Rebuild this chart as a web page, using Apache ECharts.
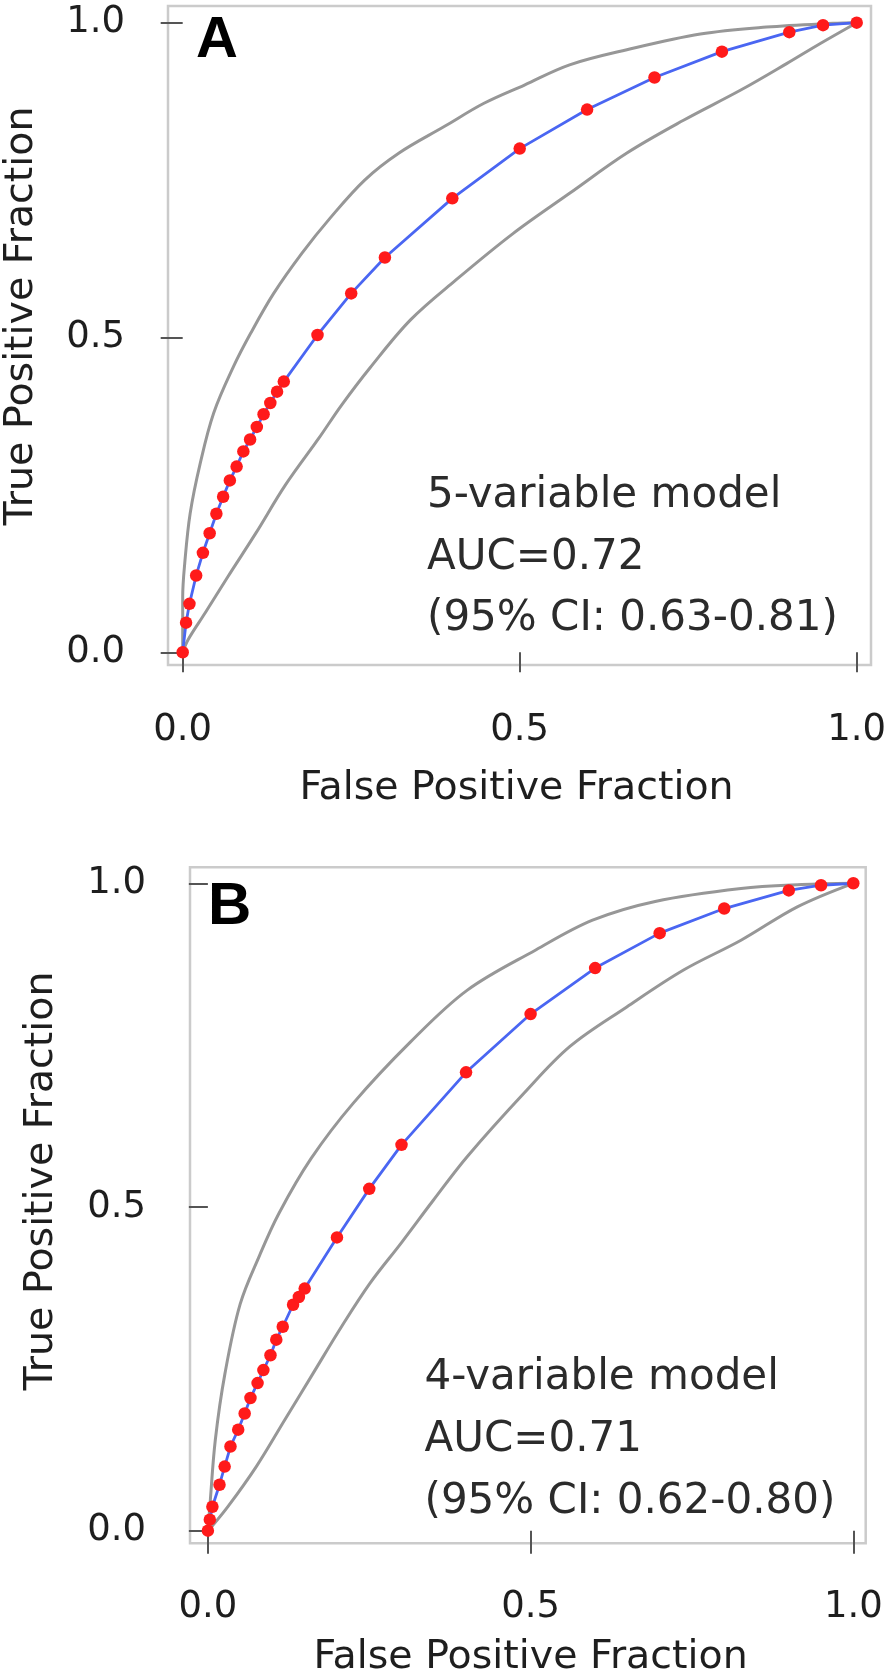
<!DOCTYPE html>
<html>
<head>
<meta charset="utf-8">
<script src="https://cdn.jsdelivr.net/npm/echarts@6/dist/echarts.min.js"></script>
<style>
html,body{margin:0;padding:0;background:#fff;}
#chart{width:894px;height:1680px;}
</style>
</head>
<body>
<div id="chart"></div>
<script>
// ---------- DATA ----------
// Panel A: 5-variable model ROC
const fprA = [0, 0.005, 0.01, 0.02, 0.03, 0.04, 0.05, 0.06, 0.07, 0.08, 0.09, 0.10, 0.11, 0.12, 0.13, 0.14, 0.15, 0.20, 0.25, 0.30, 0.40, 0.50, 0.60, 0.70, 0.80, 0.90, 0.95, 1.0];
const tprA = [0, 0.047, 0.077, 0.122, 0.158, 0.189, 0.220, 0.247, 0.273, 0.295, 0.319, 0.338, 0.358, 0.378, 0.396, 0.414, 0.430, 0.504, 0.570, 0.627, 0.721, 0.800, 0.862, 0.913, 0.954, 0.985, 0.996, 1.0];
const upperA_x = [0, 0, 0.003, 0.011, 0.026, 0.046, 0.0755, 0.101, 0.135, 0.177, 0.219, 0.270, 0.321, 0.388, 0.447, 0.507, 0.574, 0.659, 0.768, 0.866, 0.965, 1.0];
const upperA_y = [0, 0.088, 0.141, 0.22, 0.30, 0.38, 0.454, 0.507, 0.570, 0.634, 0.690, 0.750, 0.793, 0.835, 0.872, 0.901, 0.933, 0.957, 0.982, 0.993, 0.999, 1.0];
const lowerA_x = [0, 0.008, 0.033, 0.067, 0.109, 0.152, 0.202, 0.236, 0.278, 0.338, 0.405, 0.490, 0.574, 0.659, 0.743, 0.828, 0.896, 0.946, 1.0];
const lowerA_y = [0, 0.02, 0.062, 0.12, 0.19, 0.265, 0.34, 0.393, 0.452, 0.528, 0.591, 0.665, 0.729, 0.793, 0.845, 0.893, 0.935, 0.967, 1.0];

// Panel B: 4-variable model ROC
const fprB = [0, 0.003, 0.007, 0.018, 0.026, 0.035, 0.047, 0.057, 0.066, 0.077, 0.086, 0.097, 0.106, 0.116, 0.132, 0.141, 0.150, 0.20, 0.25, 0.30, 0.40, 0.50, 0.60, 0.70, 0.80, 0.90, 0.95, 1.0];
const tprB = [0, 0.017, 0.037, 0.071, 0.099, 0.130, 0.156, 0.181, 0.205, 0.228, 0.248, 0.271, 0.295, 0.315, 0.349, 0.361, 0.374, 0.453, 0.528, 0.596, 0.708, 0.798, 0.869, 0.923, 0.961, 0.989, 0.997, 1.0];
const upperB_x = [0, 0.003, 0.0115, 0.0265, 0.05, 0.08, 0.11, 0.16, 0.225, 0.314, 0.402, 0.508, 0.596, 0.693, 0.826, 0.92, 1.0];
const upperB_y = [0, 0.037, 0.14, 0.243, 0.35, 0.425, 0.49, 0.575, 0.66, 0.755, 0.835, 0.897, 0.943, 0.972, 0.992, 0.998, 1.0];
const lowerB_x = [0, 0.005, 0.031, 0.075, 0.119, 0.163, 0.207, 0.251, 0.30, 0.349, 0.402, 0.49, 0.561, 0.649, 0.737, 0.826, 0.914, 1.0];
const lowerB_y = [0, 0.005, 0.037, 0.099, 0.171, 0.243, 0.315, 0.382, 0.445, 0.51, 0.578, 0.676, 0.748, 0.809, 0.866, 0.912, 0.964, 1.0];

// Tick values and texts
const tickValues = [0, 0.5, 1.0];
const xTitle = 'False Positive Fraction';
const yTitle = 'True Positive Fraction';
const panelLetters = ['A', 'B'];
const annotA = ['5-variable model', 'AUC=0.72', '(95% CI: 0.63-0.81)'];
const annotB = ['4-variable model', 'AUC=0.71', '(95% CI: 0.62-0.80)'];

// ---------- BUILD ----------
function pairs(xs, ys) { return xs.map((x, i) => [x, ys[i]]); }
const FONT = 'DejaVu Sans';
const tickColor = '#555';
const labelColor = '#1e1e1e';

function axisCfg(gi, min, max, offset, tickLen, margin) {
  return {
    gridIndex: gi, type: 'value', min: min, max: max, offset: offset,
    axisLine: { show: false },
    axisTick: { show: true, length: tickLen, customValues: tickValues, lineStyle: { color: tickColor, width: 2 } },
    axisLabel: { customValues: tickValues, formatter: v => v.toFixed(1), margin: margin,
      fontFamily: FONT, fontSize: 37, lineHeight: 37, color: labelColor },
    splitLine: { show: false }
  };
}
function bandSeries(gi, xs, ys) {
  return { type: 'line', xAxisIndex: gi, yAxisIndex: gi, data: pairs(xs, ys), smooth: 0.35,
    showSymbol: false, symbol: 'none', lineStyle: { color: '#979797', width: 3 }, z: 2, silent: true };
}
function rocSeries(gi, xs, ys) {
  return { type: 'line', xAxisIndex: gi, yAxisIndex: gi, data: pairs(xs, ys),
    symbol: 'circle', symbolSize: 12.5, showSymbol: true, showAllSymbol: true,
    itemStyle: { color: '#ff1a1a', borderWidth: 0 },
    lineStyle: { color: '#4a66f2', width: 2.8 }, z: 3 };
}
function txt(text, x, y, opts) {
  return Object.assign({ type: 'text', x: x, y: y, silent: true,
    style: Object.assign({ text: text, fontFamily: FONT, fontSize: 42, fill: '#2b2b2b', align: 'left', verticalAlign: 'middle' }, opts || {}) });
}

const graphics = [
  // axis titles
  txt(xTitle, 516.5, 789, { fontSize: 39.5, align: 'center', fill: labelColor }),
  Object.assign(txt(yTitle, 21.5, 316, { fontSize: 39.5, align: 'center', fill: labelColor }), { rotation: Math.PI / 2 }),
  txt(xTitle, 530.6, 1658, { fontSize: 39.5, align: 'center', fill: labelColor }),
  Object.assign(txt(yTitle, 41.3, 1181, { fontSize: 39.5, align: 'center', fill: labelColor }), { rotation: Math.PI / 2 }),
  // panel letters
  txt(panelLetters[0], 196, 41, { fontFamily: 'Liberation Sans', fontWeight: 'bold', fontSize: 58, fill: '#000' }),
  txt(panelLetters[1], 208, 907, { fontFamily: 'Liberation Sans', fontWeight: 'bold', fontSize: 60, fill: '#000' }),
];
const annYA = [496, 558, 619], annYB = [1378, 1440, 1502];
annotA.forEach((t, i) => graphics.push(txt(t, 427, annYA[i])));
annotB.forEach((t, i) => graphics.push(txt(t, 424.5, annYB[i])));

const option = {
  animation: false,
  backgroundColor: '#fff',
  grid: [
    { left: 168, top: 6, width: 703, height: 659, show: true, borderColor: '#cbcbcb', borderWidth: 2.5, backgroundColor: 'transparent' },
    { left: 190, top: 867.3, width: 675.7, height: 676, show: true, borderColor: '#cbcbcb', borderWidth: 2.5, backgroundColor: 'transparent' }
  ],
  xAxis: [
    axisCfg(0, -0.0218, 1.0212, 15, 20, 32),
    axisCfg(1, -0.0277, 1.0192, 15, 23, 31)
  ],
  yAxis: [
    axisCfg(0, -0.0202, 1.0265, 6, 22, 37),
    axisCfg(1, -0.0195, 1.0247, 5, 19, 39)
  ],
  series: [
    bandSeries(0, upperA_x, upperA_y),
    bandSeries(0, lowerA_x, lowerA_y),
    rocSeries(0, fprA, tprA),
    bandSeries(1, upperB_x, upperB_y),
    bandSeries(1, lowerB_x, lowerB_y),
    rocSeries(1, fprB, tprB)
  ],
  graphic: graphics
};
const chart = echarts.init(document.getElementById('chart'), null, { renderer: 'canvas' });
chart.setOption(option);
</script>
</body>
</html>
